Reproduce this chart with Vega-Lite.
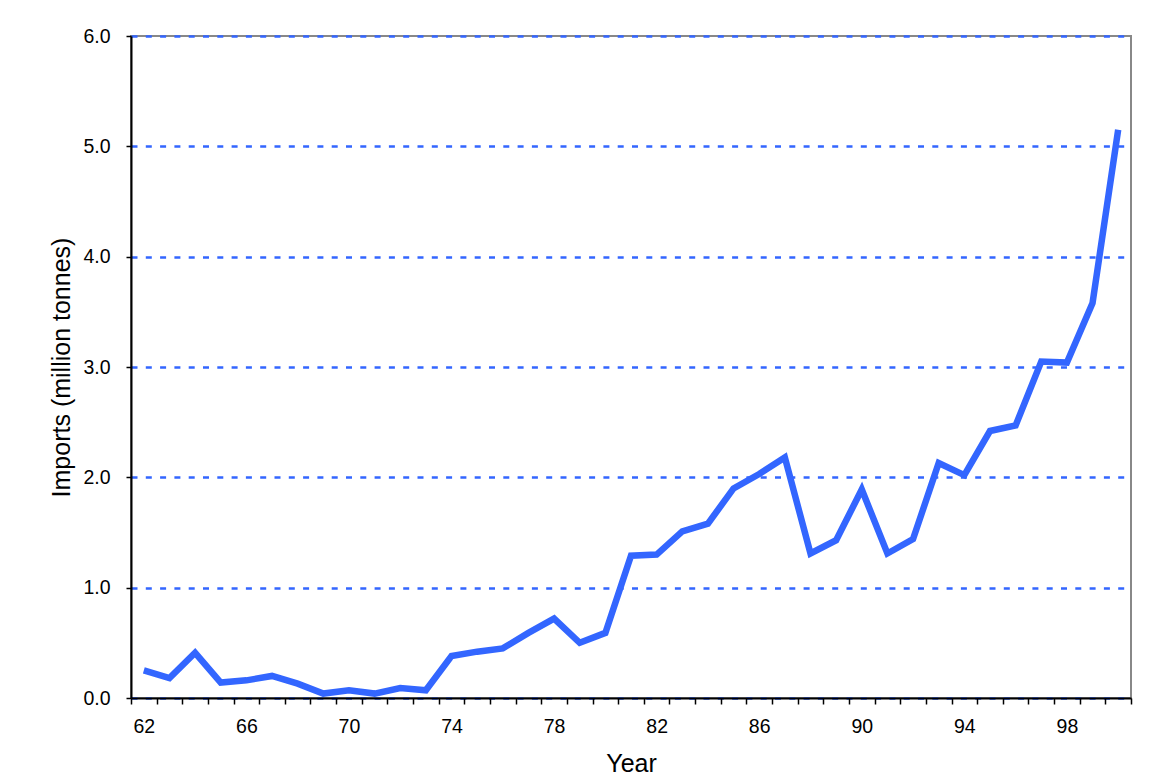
{
  "$schema": "https://vega.github.io/schema/vega-lite/v6.json",
  "width": 1000,
  "height": 662,
  "autosize": {"type": "none"},
  "padding": {"left": 131, "top": 36, "right": 24, "bottom": 86},
  "background": "white",
  "config": {
    "font": "Liberation Sans",
    "view": {"stroke": "#888888", "strokeWidth": 2}
  },
  "data": {
    "values": [
      {"year": 62, "imports": 0.25},
      {"year": 63, "imports": 0.18},
      {"year": 64, "imports": 0.41},
      {"year": 65, "imports": 0.14},
      {"year": 66, "imports": 0.16},
      {"year": 67, "imports": 0.2},
      {"year": 68, "imports": 0.13},
      {"year": 69, "imports": 0.04},
      {"year": 70, "imports": 0.07},
      {"year": 71, "imports": 0.04},
      {"year": 72, "imports": 0.09},
      {"year": 73, "imports": 0.07},
      {"year": 74, "imports": 0.38},
      {"year": 75, "imports": 0.42},
      {"year": 76, "imports": 0.45},
      {"year": 77, "imports": 0.59},
      {"year": 78, "imports": 0.72},
      {"year": 79, "imports": 0.5},
      {"year": 80, "imports": 0.59},
      {"year": 81, "imports": 1.29},
      {"year": 82, "imports": 1.3},
      {"year": 83, "imports": 1.51},
      {"year": 84, "imports": 1.58},
      {"year": 85, "imports": 1.9},
      {"year": 86, "imports": 2.03},
      {"year": 87, "imports": 2.18},
      {"year": 88, "imports": 1.31},
      {"year": 89, "imports": 1.43},
      {"year": 90, "imports": 1.89},
      {"year": 91, "imports": 1.31},
      {"year": 92, "imports": 1.44},
      {"year": 93, "imports": 2.13},
      {"year": 94, "imports": 2.02},
      {"year": 95, "imports": 2.42},
      {"year": 96, "imports": 2.47},
      {"year": 97, "imports": 3.05},
      {"year": 98, "imports": 3.04},
      {"year": 99, "imports": 3.58},
      {"year": 100, "imports": 5.15}
    ]
  },
  "mark": {"type": "line", "color": "#3366FF", "strokeWidth": 6.5, "strokeCap": "butt", "strokeJoin": "miter"},
  "encoding": {
    "x": {
      "field": "year",
      "type": "ordinal",
      "scale": {"type": "band", "paddingInner": 0, "paddingOuter": 0},
      "axis": {
        "title": "Year",
        "titleFont": "Liberation Sans",
        "titleFontSize": 25,
        "titleFontWeight": "normal",
        "titleColor": "black",
        "titlePadding": 16,
        "labelAngle": 0,
        "labelFontSize": 19.5,
        "labelColor": "black",
        "labelPadding": 13,
        "labelExpr": "(datum.value - 62) % 4 == 0 ? datum.value : ''",
        "tickBand": "extent",
        "tickSize": 6,
        "tickColor": "black",
        "tickWidth": 1.5,
        "domainColor": "black",
        "domainWidth": 2,
        "grid": false
      }
    },
    "y": {
      "field": "imports",
      "type": "quantitative",
      "scale": {"domain": [0, 6], "nice": false, "zero": true},
      "axis": {
        "title": "Imports (million tonnes)",
        "titleFont": "Liberation Sans",
        "titleFontSize": 25,
        "titleFontWeight": "normal",
        "titleColor": "black",
        "titlePadding": 8,
        "values": [0, 1, 2, 3, 4, 5, 6],
        "format": ".1f",
        "labelFontSize": 19.5,
        "labelColor": "black",
        "labelPadding": 16,
        "tickSize": 5,
        "tickColor": "black",
        "tickWidth": 1.5,
        "domainColor": "black",
        "domainWidth": 2,
        "grid": true,
        "gridColor": "#3366FF",
        "gridWidth": 2.5,
        "gridDash": [6, 8.3]
      }
    }
  }
}
